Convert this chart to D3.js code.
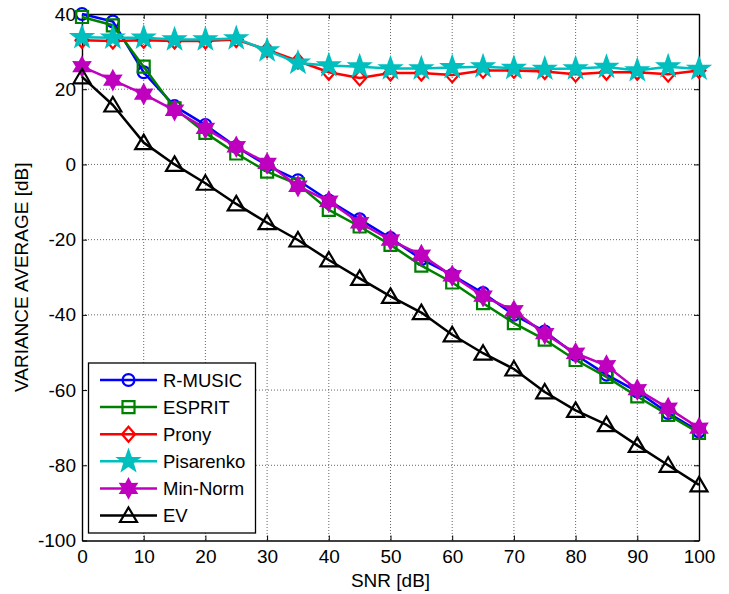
<!DOCTYPE html>
<html><head><meta charset="utf-8">
<script src="https://cdn.jsdelivr.net/npm/d3@7"></script>
<style>body{margin:0;background:#fff}svg{display:block}text{font-family:Arial,"Liberation Sans",Helvetica,sans-serif}</style>
</head><body><svg id="c" width="729" height="594"></svg>
<script>
const snr = [0,5,10,15,20,25,30,35,40,45,50,55,60,65,70,75,80,85,90,95,100];
const rmusic    = [40,38,24.5,15.5,10.5,4.7,-0.3,-4.2,-9.6,-14.6,-19.6,-25.2,-29.4,-34.2,-40.0,-44.4,-50.6,-55.9,-60.4,-66.1,-71.0];
const esprit    = [39.2,37.0,26.0,14.9,8.4,2.9,-1.9,-5.3,-12.1,-16.5,-21.4,-26.9,-31.4,-36.9,-42.2,-46.6,-52.0,-56.5,-61.7,-66.6,-71.4];
const prony     = [33,32.8,33,32.8,32.8,33.2,30.5,27.5,24.5,23,24.3,24.3,23.8,25,25,24.7,24,24.5,24.5,24,25];
const pisarenko = [33.8,33.7,33.7,33.2,33.2,33.5,30.3,27,26.3,26,25.5,25.5,25.8,26,25.6,25.4,25.5,25.9,25,26,25.4];
const minnorm   = [26,22.4,18.7,14.4,9.6,4.7,0.3,-5.8,-9.8,-15.5,-20.1,-24.1,-29.6,-35.0,-38.9,-45.0,-50.2,-53.5,-59.9,-64.8,-70.1];
const ev        = [23.3,15.8,5.8,0,-5.0,-10.5,-15.5,-20.1,-25.4,-30.3,-35.1,-39.4,-45.3,-50.2,-54.4,-60.5,-65.4,-69.2,-74.7,-80.0,-85.2];
const xTicks = [0,10,20,30,40,50,60,70,80,90,100];
const yTicks = [-100,-80,-60,-40,-20,0,20,40];
const seriesNames = ["R-MUSIC","ESPRIT","Prony","Pisarenko","Min-Norm","EV"];
const seriesColors = ["#0000ff","#008000","#ff0000","#00bfbf","#bf00bf","#000000"];
const seriesMarkers = ["circle","square","diamond","pentagram","hexagram","triangle"];
const seriesData = [rmusic,esprit,prony,pisarenko,minnorm,ev];

const L=82,R=699,T=14,B=540.5;
const svg=d3.select("#c");
const x=d3.scaleLinear().domain([0,100]).range([L,R]);
const y=d3.scaleLinear().domain([-100,40]).range([B,T]);

const g=svg.append("g");
g.selectAll(".gx").data(xTicks.slice(1,-1)).join("line").attr("x1",d=>x(d)).attr("x2",d=>x(d)).attr("y1",T).attr("y2",B)
 .attr("stroke","#666").attr("stroke-width",1).attr("stroke-dasharray","1,2");
g.selectAll(".gy").data(yTicks.slice(1,-1)).join("line").attr("y1",d=>y(d)).attr("y2",d=>y(d)).attr("x1",L).attr("x2",R)
 .attr("stroke","#666").attr("stroke-width",1).attr("stroke-dasharray","1,2");

const fs="19px";
const fmt=d=>String(d);
const ax=svg.append("g").attr("transform",`translate(0,${B})`).call(d3.axisBottom(x).tickValues(xTicks).tickFormat(fmt).tickSizeInner(-5).tickSizeOuter(0).tickPadding(9));
const ay=svg.append("g").attr("transform",`translate(${L},0)`).call(d3.axisLeft(y).tickValues(yTicks).tickFormat(fmt).tickSizeInner(-5).tickSizeOuter(0).tickPadding(6));
const at=svg.append("g").attr("transform",`translate(0,${T})`).call(d3.axisTop(x).tickValues(xTicks).tickSizeInner(-5).tickSizeOuter(0).tickFormat(""));
const ar=svg.append("g").attr("transform",`translate(${R},0)`).call(d3.axisRight(y).tickValues(yTicks).tickSizeInner(-5).tickSizeOuter(0).tickFormat(""));
[ax,ay,at,ar].forEach(a=>{a.select(".domain").attr("stroke","#000").attr("stroke-width",1.4);a.selectAll(".tick line").attr("stroke","#000");
 a.selectAll("text").attr("font-size",fs).attr("fill","#000").attr("font-family","Arial, 'Liberation Sans', sans-serif");});

svg.append("text").attr("x",(L+R)/2).attr("y",587).attr("text-anchor","middle").attr("font-size",fs).text("SNR [dB]");
svg.append("text").attr("transform",`translate(28,${(T+B)/2}) rotate(-90)`).attr("text-anchor","middle").attr("font-size",fs).text("VARIANCE AVERAGE [dB]");

function starPath(n, ro, ri){
  const pts=[];
  for(let i=0;i<2*n;i++){const r=i%2?ri:ro;const a=-Math.PI/2+i*Math.PI/n;pts.push([r*Math.cos(a),r*Math.sin(a)]);}
  return "M"+pts.map(p=>p.join(",")).join("L")+"Z";
}
function markerPath(type){
  switch(type){
    case "circle": return d3.symbol(d3.symbolCircle,110)();
    case "square": return d3.symbol(d3.symbolSquare,144)();
    case "diamond": return "M0,-7.5L6.5,0L0,7.5L-6.5,0Z";
    case "triangle": return "M0,-8L8.5,6.5L-8.5,6.5Z";
    case "pentagram": return starPath(5,10.5,4.2);
    case "hexagram": return starPath(6,9,5);
  }
}
function markerFill(type,c){return (type==="pentagram"||type==="hexagram")?c:"none";}

const line=d3.line().x((d,i)=>x(snr[i])).y(d=>y(d));
const plot=svg.append("g");
seriesData.forEach((vals,k)=>{
  const gg=plot.append("g");
  gg.append("path").datum(vals).attr("d",line).attr("fill","none").attr("stroke",seriesColors[k]).attr("stroke-width",2.5).attr("stroke-linejoin","round");
  gg.selectAll("path.m").data(vals).join("path").attr("class","m").attr("d",markerPath(seriesMarkers[k]))
    .attr("transform",(d,i)=>`translate(${x(snr[i])},${y(d)})`)
    .attr("fill",markerFill(seriesMarkers[k],seriesColors[k])).attr("stroke",seriesColors[k]).attr("stroke-width",2.2);
});

const lg=svg.append("g");
lg.append("rect").attr("x",88.5).attr("y",363).attr("width",167).attr("height",170).attr("fill","#fff").attr("stroke","#000").attr("stroke-width",1.3);
seriesNames.forEach((nm,k)=>{
  const yy=380+k*27.1;
  lg.append("line").attr("x1",100).attr("x2",157).attr("y1",yy).attr("y2",yy).attr("stroke",seriesColors[k]).attr("stroke-width",2.5);
  lg.append("path").attr("d",markerPath(seriesMarkers[k])).attr("transform",`translate(128.5,${yy})`)
    .attr("fill",markerFill(seriesMarkers[k],seriesColors[k])).attr("stroke",seriesColors[k]).attr("stroke-width",2.2);
  lg.append("text").attr("x",163).attr("y",yy).attr("dy","0.36em").attr("font-size","18.5px").text(nm);
});
</script></body></html>
